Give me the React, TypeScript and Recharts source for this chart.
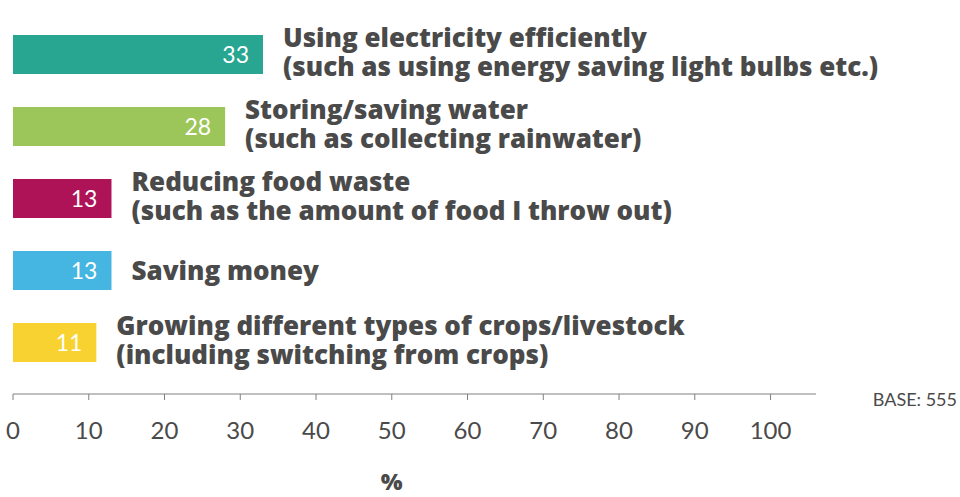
import React from "react";
import { BarChart, Bar, XAxis, YAxis, Cell, LabelList, Label } from "recharts";

const categories = [
  "Using electricity efficiently",
  "Storing/saving water",
  "Reducing food waste",
  "Saving money",
  "Growing different types of crops/livestock",
];
const subtitles = [
  "(such as using energy saving light bulbs etc.)",
  "(such as collecting rainwater)",
  "(such as the amount of food I throw out)",
  "",
  "(including switching from crops)",
];
const values = [33, 28, 13, 13, 11];
const ticks = [0, 10, 20, 30, 40, 50, 60, 70, 80, 90, 100];
const colors = ["#28a692", "#9dc65a", "#ae1257", "#45b5e1", "#f7d230"];

const data = categories.map((name, i) => ({
  name,
  sub: subtitles[i],
  value: values[i],
}));

const TEXT = "#4a4a4a";
const AXIS = "#808080";
const FONT = "Lato, 'Open Sans', sans-serif";
const BOLD = "'Open Sans', Lato, sans-serif";

const CategoryLabel = (props: any) => {
  const { x, y, width, height, index } = props;
  const d = data[index];
  const lx = x + width + 20;
  const cy = y + height / 2;
  if (!d.sub) {
    return (
      <text x={lx} y={cy + 9} fill={TEXT} fontSize={26} fontWeight={800} fontFamily={BOLD}>
        {d.name}
      </text>
    );
  }
  return (
    <text x={lx} y={cy} fill={TEXT} fontSize={26} fontWeight={800} fontFamily={BOLD}>
      <tspan x={lx} dy={-7.5}>{d.name}</tspan>
      <tspan x={lx} dy={29}>{d.sub}</tspan>
    </text>
  );
};

// "%" sits under the 0–100 span, not under the whole axis line
const PercentLabel = (props: any) => {
  const { viewBox } = props;
  const cx = viewBox.x + (viewBox.width * 50) / 106;
  return (
    <text
      x={cx}
      y={viewBox.y + viewBox.height - 7}
      textAnchor="middle"
      fill={TEXT}
      fontSize={23}
      fontWeight={800}
      fontFamily={BOLD}
    >
      %
    </text>
  );
};

export default function App() {
  return (
    <div style={{ position: "absolute", left: 0, top: 0, width: 960, height: 497, background: "#fff" }}>
      <BarChart
        width={960}
        height={497}
        data={data}
        layout="vertical"
        margin={{ top: 7, right: 144, left: 13, bottom: 0 }}
      >
        <XAxis
          type="number"
          domain={[0, 106]}
          ticks={ticks}
          interval={0}
          height={103}
          stroke={AXIS}
          tickSize={6}
          tickMargin={22}
          tick={{ fill: TEXT, fontSize: 24, fontFamily: FONT }}
          allowDataOverflow
        >
          <Label content={PercentLabel} />
        </XAxis>
        <YAxis
          type="category"
          dataKey="name"
          width={0}
          tick={false}
          tickLine={false}
          stroke={AXIS}
          padding={{ top: 11, bottom: 16 }}
        />
        <Bar dataKey="value" barSize={39} isAnimationActive={false}>
          {data.map((_, i) => (
            <Cell key={i} fill={colors[i]} />
          ))}
          <LabelList
            dataKey="value"
            position="insideRight"
            offset={14}
            fill="#ffffff"
            fontSize={23}
            fontFamily={FONT}
          />
          <LabelList dataKey="name" content={CategoryLabel} />
        </Bar>
      </BarChart>
      <div
        style={{
          position: "absolute",
          right: 3,
          top: 388,
          fontFamily: FONT,
          fontSize: 18,
          color: TEXT,
        }}
      >
        BASE: 555
      </div>
    </div>
  );
}
